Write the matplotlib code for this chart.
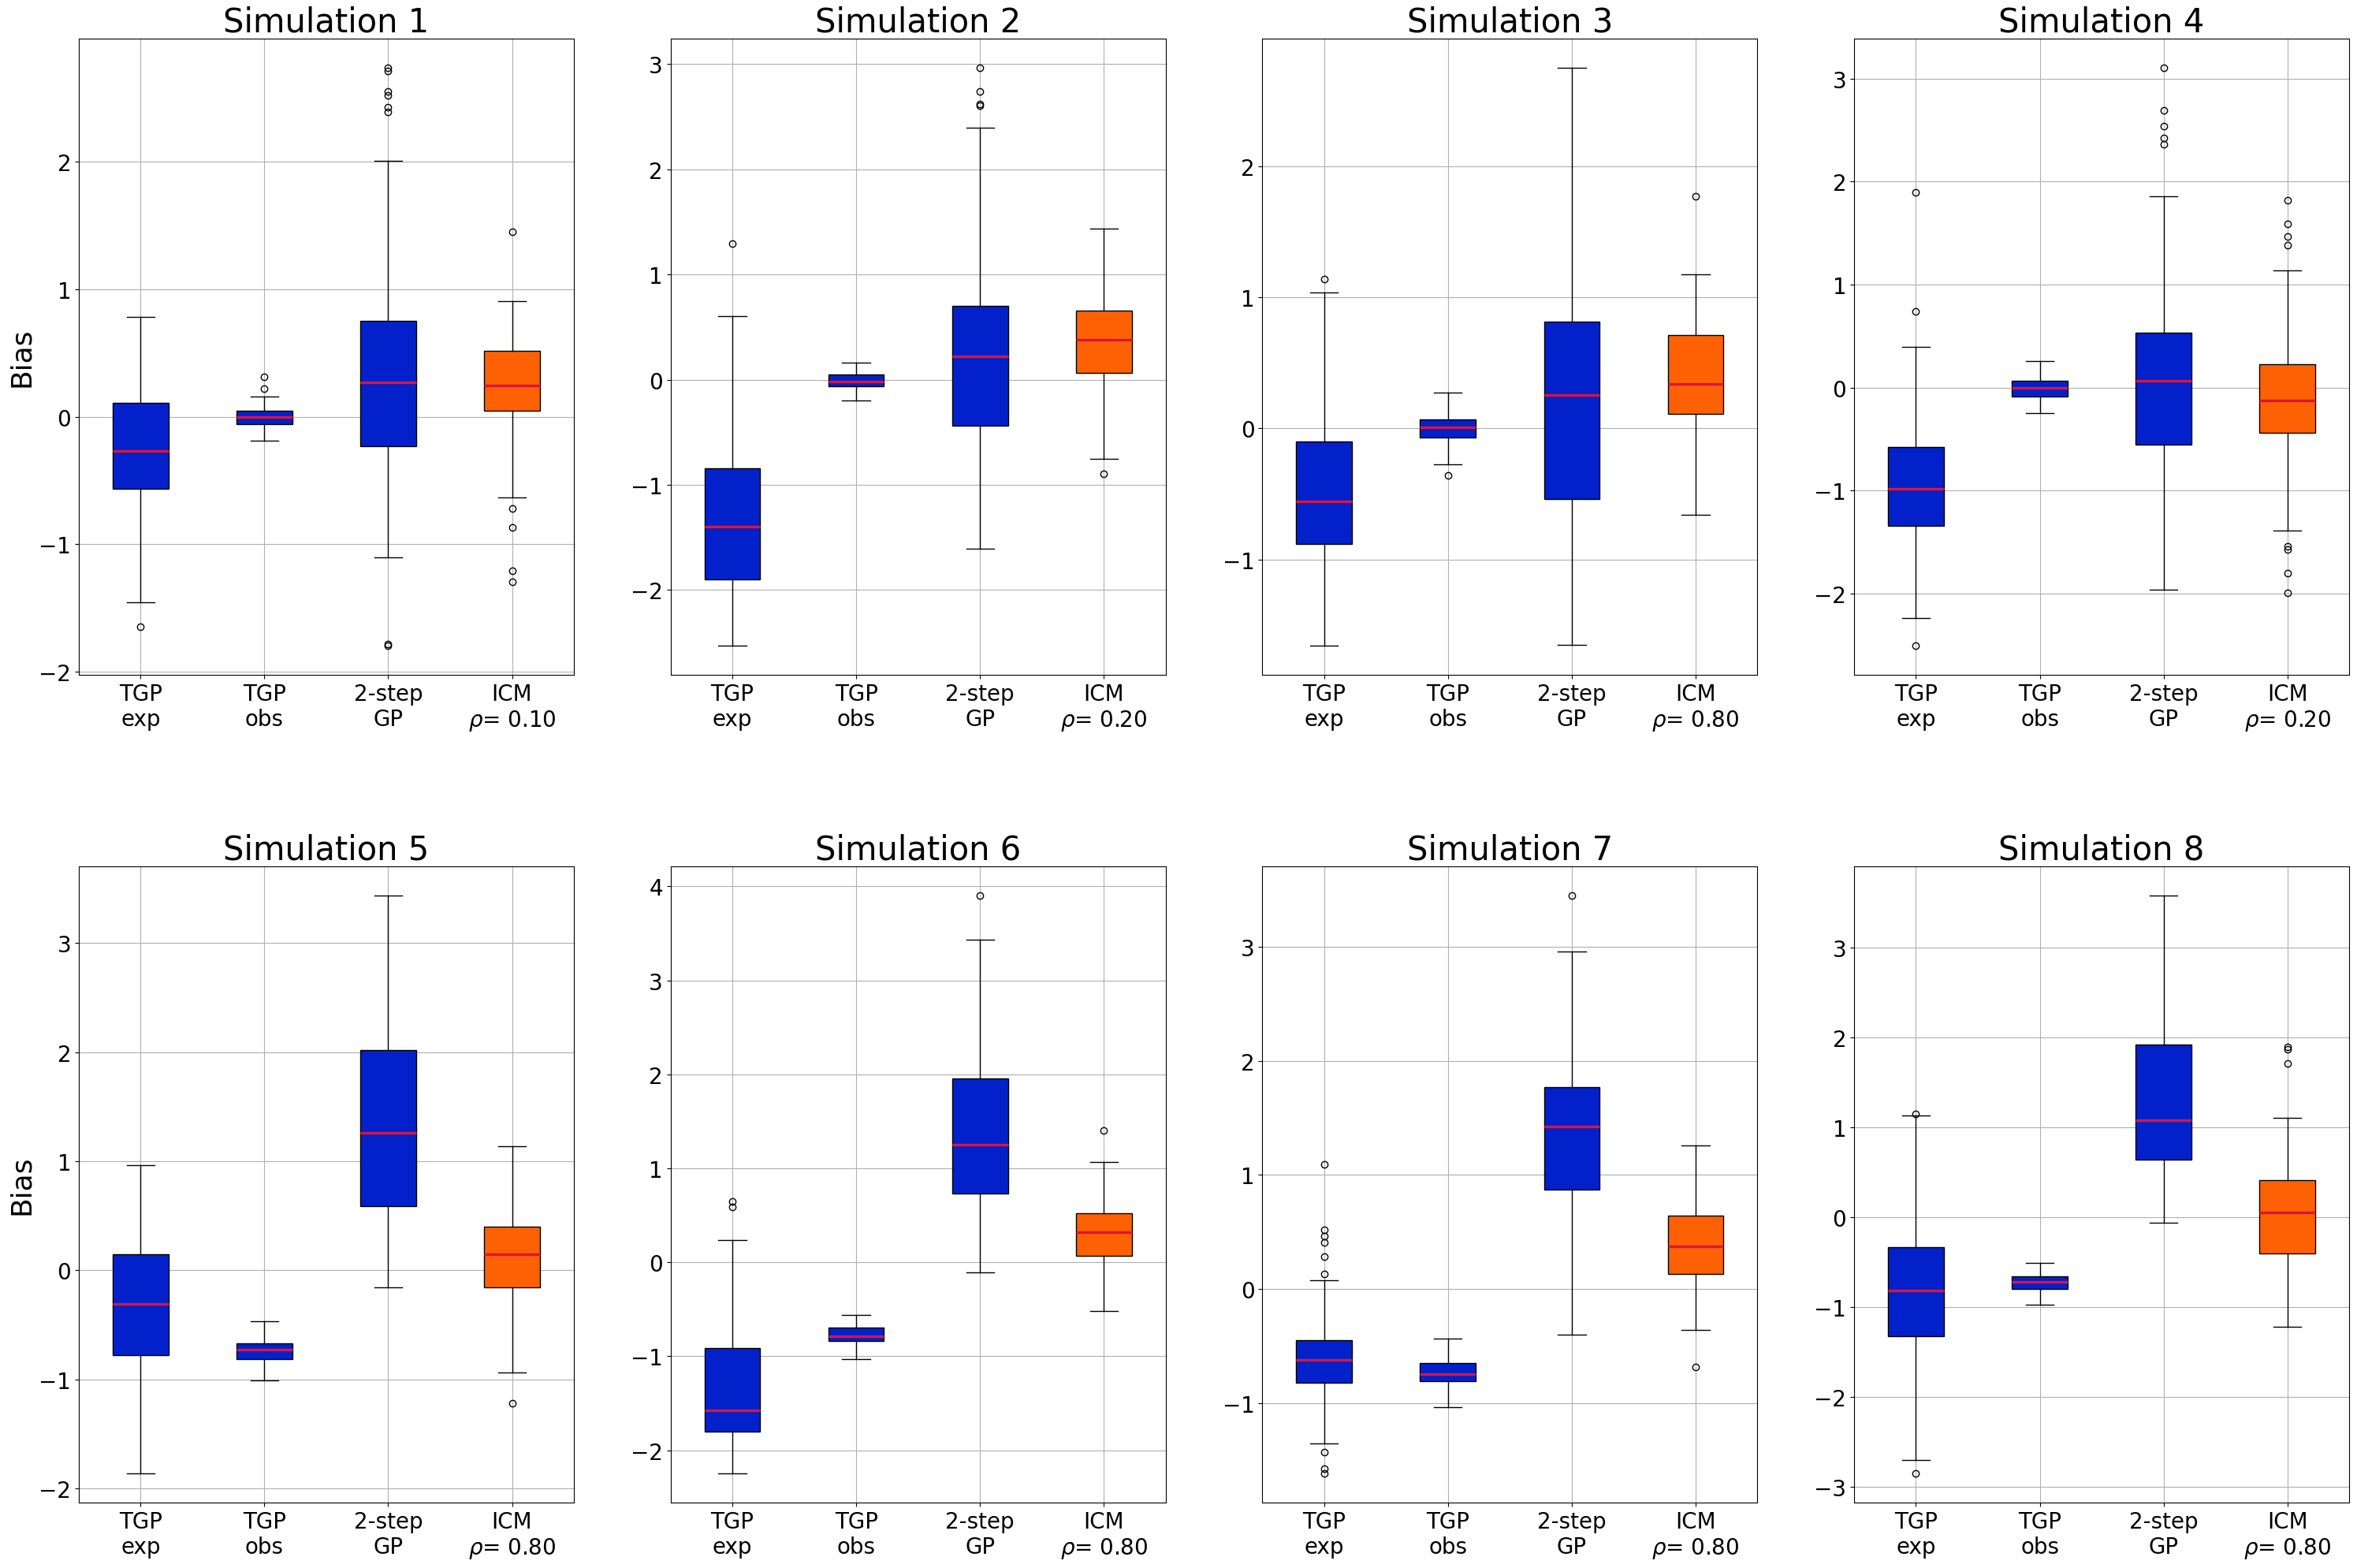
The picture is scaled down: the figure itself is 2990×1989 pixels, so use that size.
import matplotlib
matplotlib.use('Agg')
import matplotlib.pyplot as plt

METHODS = ['TGP\nexp', 'TGP\nobs', '2-step\nGP', 'ICM']
RHO = [0.10, 0.20, 0.80, 0.20, 0.80, 0.80, 0.80, 0.80]

BLUE = '#0321CA'
ORANGE = '#FD6104'
MEDIAN_COLOR = '#DC143C'

# one row per simulation, columns: TGP exp, TGP obs, 2-step GP, ICM
MED = [
    [-0.270, 0.000, 0.272, 0.247],
    [-1.400, -0.015, 0.220, 0.377],
    [-0.559, 0.008, 0.253, 0.337],
    [-0.980, -0.005, 0.068, -0.127],
    [-0.306, -0.725, 1.259, 0.150],
    [-1.577, -0.788, 1.249, 0.320],
    [-0.624, -0.742, 1.426, 0.371],
    [-0.813, -0.719, 1.074, 0.050],
]
Q1 = [
    [-0.567, -0.055, -0.230, 0.047],
    [-1.897, -0.067, -0.435, 0.067],
    [-0.881, -0.073, -0.540, 0.111],
    [-1.341, -0.083, -0.551, -0.439],
    [-0.780, -0.812, 0.588, -0.160],
    [-1.804, -0.841, 0.735, 0.068],
    [-0.820, -0.807, 0.873, 0.135],
    [-1.323, -0.802, 0.642, -0.404],
]
Q3 = [
    [0.111, 0.045, 0.749, 0.514],
    [-0.841, 0.048, 0.698, 0.659],
    [-0.103, 0.069, 0.816, 0.713],
    [-0.580, 0.063, 0.537, 0.224],
    [0.146, -0.670, 2.020, 0.401],
    [-0.915, -0.693, 1.952, 0.520],
    [-0.445, -0.646, 1.771, 0.646],
    [-0.332, -0.659, 1.920, 0.410],
]
WHIS_LO = [
    [-1.453, -0.189, -1.104, -0.635],
    [-2.532, -0.200, -1.610, -0.755],
    [-1.659, -0.272, -1.651, -0.659],
    [-2.234, -0.244, -1.961, -1.385],
    [-1.865, -1.008, -0.160, -0.939],
    [-2.249, -1.032, -0.111, -0.519],
    [-1.352, -1.034, -0.397, -0.358],
    [-2.700, -0.974, -0.061, -1.217],
]
WHIS_HI = [
    [0.780, 0.160, 2.008, 0.907],
    [0.607, 0.162, 2.394, 1.433],
    [1.034, 0.272, 2.751, 1.176],
    [0.395, 0.259, 1.854, 1.141],
    [0.962, -0.465, 3.438, 1.135],
    [0.233, -0.561, 3.434, 1.068],
    [0.077, -0.432, 2.957, 1.261],
    [1.129, -0.509, 3.580, 1.107],
]
FLIERS = [
    [[-1.644], [0.315, 0.218],
     [2.737, 2.712, 2.551, 2.516, 2.424, 2.387, -1.780, -1.796],
     [1.450, -0.720, -0.869, -1.209, -1.295]],
    [[1.290], [], [2.967, 2.738, 2.618, 2.604], [-0.898]],
    [[1.138], [-0.360], [], [1.770]],
    [[1.893, 0.737, -2.507], [], [3.107, 2.688, 2.537, 2.424, 2.361],
     [1.820, 1.590, 1.463, 1.380, -1.537, -1.571, -1.800, -1.995]],
    [[], [], [], [-1.222]],
    [[0.646, 0.587], [], [3.905], [1.400]],
    [[1.090, 0.521, 0.462, 0.406, 0.285, 0.132, -1.426, -1.575, -1.618],
     [], [3.450], [-0.680]],
    [[1.151, -2.855], [], [], [1.893, 1.865, 1.710]],
]


fig, axes = plt.subplots(2, 4, figsize=(29.9, 19.9), dpi=100)
fig.subplots_adjust(left=0.0334, right=0.9967, bottom=0.0417, top=0.9749,
                    wspace=0.195, hspace=0.301)

for i, ax in enumerate(axes.flat):
    labels = METHODS[:3] + ['ICM\n$\\rho$= %.2f' % RHO[i]]
    stats = []
    for j in range(4):
        stats.append(dict(med=MED[i][j], q1=Q1[i][j], q3=Q3[i][j],
                          whislo=WHIS_LO[i][j], whishi=WHIS_HI[i][j],
                          fliers=FLIERS[i][j], label=labels[j]))
    bp = ax.bxp(stats, patch_artist=True,
                boxprops=dict(edgecolor='black', linewidth=1.0),
                medianprops=dict(color=MEDIAN_COLOR, linewidth=2.4),
                flierprops=dict(marker='o', markerfacecolor='none',
                                markeredgecolor='black', markersize=6))
    for j, box in enumerate(bp['boxes']):
        box.set_facecolor(BLUE if j < 3 else ORANGE)

    ax.grid(True)
    ax.tick_params(labelsize=20)
    ax.set_title('Simulation %d' % (i + 1), fontsize=30)
    if i % 4 == 0:
        ax.set_ylabel('Bias', fontsize=26)

fig.savefig('out.png', dpi=100)
